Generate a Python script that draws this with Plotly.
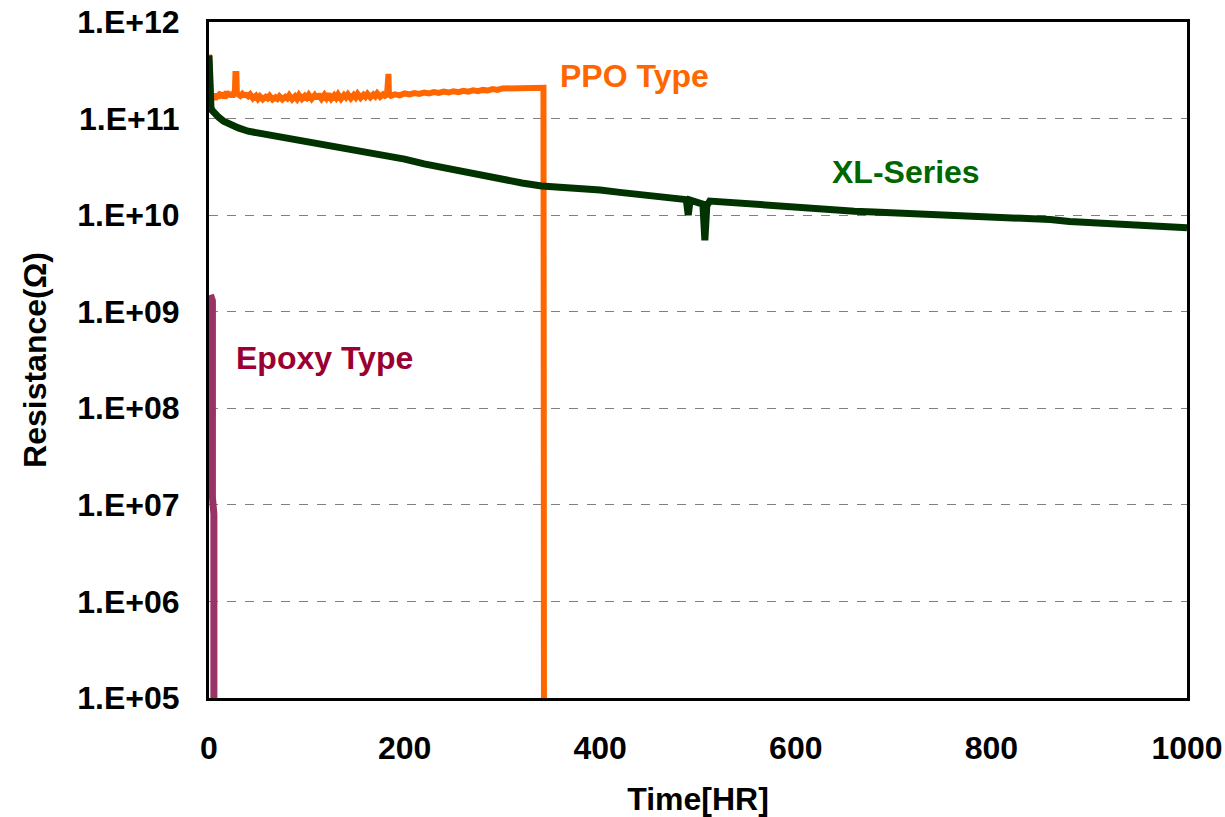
import math
import plotly.graph_objects as go

# ---------------- data ----------------
ppo_hours = [0, 0.5, 1, 2, 3, 4, 5, 6, 8, 9, 10, 12, 13, 15, 16, 18, 20, 22, 24, 25, 26.5, 27,
             28, 28.5, 30, 32, 34, 35, 38, 40, 42, 45, 48, 50, 52, 55, 58, 60, 62, 65, 68, 70,
             72, 75, 78, 80, 82, 85, 88, 90, 92, 95, 98, 100, 102, 105, 108, 110, 112, 115,
             118, 120, 122, 125, 128, 130, 132, 135, 138, 140, 142, 145, 148, 150, 152, 155,
             158, 160, 162, 165, 168, 170, 172, 175, 178, 180, 182, 182.5, 183.5, 184, 186,
             190, 195, 200, 205, 210, 215, 220, 225, 230, 235, 240, 245, 250, 255, 260, 265,
             270, 275, 280, 285, 290, 295, 300, 310, 320, 330, 340, 342, 342.3, 342.6]
ppo_ohm = [4.6e11, 3.0e11, 1.8e11, 1.55e11, 1.75e11, 1.6e11, 1.72e11, 1.58e11, 1.8e11, 1.62e11,
           1.75e11, 1.85e11, 1.65e11, 1.78e11, 1.62e11, 1.9e11, 1.7e11, 1.85e11, 1.68e11,
           1.8e11, 1.95e11, 2.9e11, 2.9e11, 1.82e11, 1.78e11, 1.72e11, 1.8e11, 1.75e11,
           1.76e11, 1.7e11, 1.78e11, 1.62e11, 1.72e11, 1.6e11, 1.7e11, 1.58e11, 1.68e11,
           1.62e11, 1.72e11, 1.58e11, 1.66e11, 1.6e11, 1.7e11, 1.58e11, 1.68e11, 1.62e11,
           1.74e11, 1.58e11, 1.7e11, 1.6e11, 1.75e11, 1.6e11, 1.72e11, 1.64e11, 1.76e11,
           1.6e11, 1.74e11, 1.62e11, 1.78e11, 1.6e11, 1.76e11, 1.64e11, 1.8e11, 1.6e11,
           1.74e11, 1.64e11, 1.78e11, 1.6e11, 1.75e11, 1.66e11, 1.78e11, 1.62e11, 1.76e11,
           1.66e11, 1.8e11, 1.64e11, 1.76e11, 1.68e11, 1.8e11, 1.66e11, 1.78e11, 1.7e11,
           1.82e11, 1.68e11, 1.78e11, 1.72e11, 1.76e11, 2.9e11, 2.9e11, 1.8e11, 1.72e11,
           1.78e11, 1.74e11, 1.82e11, 1.78e11, 1.84e11, 1.8e11, 1.86e11, 1.82e11, 1.88e11,
           1.84e11, 1.9e11, 1.86e11, 1.92e11, 1.88e11, 1.94e11, 1.9e11, 1.96e11, 1.92e11,
           1.98e11, 1.95e11, 2.02e11, 1.98e11, 2.05e11, 2.06e11, 2.08e11, 2.08e11, 2.08e11,
           2.08e11, 1.0e8, 1.0e3]

xl_hours = [0, 0.5, 1, 2, 3, 5, 8, 10, 15, 20, 25, 30, 40, 50, 60, 70, 80, 90, 100, 110, 120,
            130, 140, 150, 160, 170, 180, 190, 200, 220, 240, 260, 280, 300, 320, 340, 360,
            380, 400, 420, 440, 460, 480, 488, 490, 492, 500, 505, 507, 509, 512, 520, 540,
            560, 580, 600, 620, 640, 660, 680, 700, 720, 740, 760, 780, 800, 820, 840, 860,
            880, 900, 920, 940, 960, 980, 1000]
xl_ohm = [4.5e11, 2.5e11, 1.5e11, 1.3e11, 1.22e11, 1.15e11, 1.08e11, 1.03e11, 9.4e10, 8.8e10,
          8.3e10, 8.0e10, 7.4e10, 7.1e10, 6.8e10, 6.5e10, 6.3e10, 6.1e10, 5.9e10, 5.6e10,
          5.4e10, 5.2e10, 5.0e10, 4.7e10, 4.5e10, 4.3e10, 4.1e10, 3.95e10, 3.8e10, 3.4e10,
          3.1e10, 2.8e10, 2.5e10, 2.3e10, 2.15e10, 2.0e10, 1.95e10, 1.9e10, 1.82e10, 1.72e10,
          1.65e10, 1.58e10, 1.5e10, 1.45e10, 1.0e10, 1.43e10, 1.35e10, 1.3e10, 5.5e9, 1.25e10,
          1.4e10, 1.38e10, 1.33e10, 1.28e10, 1.22e10, 1.18e10, 1.14e10, 1.1e10, 1.1e10,
          1.08e10, 1.06e10, 1.05e10, 1.03e10, 1.02e10, 1.0e10, 9.8e9, 9.5e9, 9.3e9, 9.0e9,
          8.6e9, 8.4e9, 8.3e9, 8.1e9, 7.9e9, 7.7e9, 7.4e9]

epoxy_hours = [1.5, 2.5, 3.5, 3.5, 5, 5, 5]
epoxy_ohm = [1.5e9, 1.4e9, 1.3e9, 1.2e7, 8e6, 1e5, 1e3]

y_tick_vals = [1e5, 1e6, 1e7, 1e8, 1e9, 1e10, 1e11, 1e12]
y_tick_text = ["1.E+05", "1.E+06", "1.E+07", "1.E+08", "1.E+09", "1.E+10", "1.E+11", "1.E+12"]
x_tick_vals = [0, 200, 400, 600, 800, 1000]

labels = ["PPO Type", "XL-Series", "Epoxy Type"]
label_x = [357, 635, 26]
label_y = [10 ** 11.44, 10 ** 10.447, 10 ** 8.52]

FONT = "Liberation Sans, Arial, sans-serif"
FS = 32
ppo_color = "#FF6600"
xl_color = "#003300"
xl_text = "#006600"
epoxy_color = "#993366"
epoxy_text = "#990033"

fig = go.Figure()
fig.add_trace(go.Scatter(x=ppo_hours, y=ppo_ohm, mode="lines",
                         line=dict(color=ppo_color, width=6), name=labels[0]))
fig.add_trace(go.Scatter(x=xl_hours, y=xl_ohm, mode="lines",
                         line=dict(color=xl_color, width=7), name=labels[1]))
fig.add_trace(go.Scatter(x=epoxy_hours, y=epoxy_ohm, mode="lines",
                         line=dict(color=epoxy_color, width=7), name=labels[2]))

for txt, xx, yy, col in zip(labels, label_x, label_y, [ppo_color, xl_text, epoxy_text]):
    fig.add_annotation(x=xx, y=math.log10(yy), text=f"<b>{txt}</b>", showarrow=False,
                       xanchor="left", yanchor="middle",
                       font=dict(family=FONT, size=FS, color=col))

fig.update_layout(
    width=1225, height=817,
    margin=dict(l=209, r=38, t=22, b=119),
    paper_bgcolor="white", plot_bgcolor="white",
    showlegend=False,
    font=dict(family=FONT, size=FS, color="black"),
)
fig.update_xaxes(
    range=[0, 1000], tickvals=x_tick_vals,
    ticktext=[f"<b>{v}</b>" for v in x_tick_vals],
    showgrid=False, zeroline=False, automargin=False,
    showline=True, linecolor="black", linewidth=3, mirror=True,
    ticks="", ticklabelstandoff=20,
    title=dict(text="<b>Time[HR]</b>", font=dict(family=FONT, size=FS), standoff=23),
)
fig.update_yaxes(
    type="log", range=[5, 12], tickvals=y_tick_vals,
    ticktext=[f"<b>{t}</b>" for t in y_tick_text],
    showgrid=True, gridcolor="#808080", griddash="dash", gridwidth=1,
    zeroline=False, automargin=False,
    showline=True, linecolor="black", linewidth=3, mirror=True,
    ticks="", ticklabelstandoff=20,
    title=dict(text="<b>Resistance(Ω)</b>", font=dict(family=FONT, size=FS), standoff=22),
)

fig.write_html("out.html", config={"displayModeBar": False},
               post_script="document.body.style.margin='0px';")
